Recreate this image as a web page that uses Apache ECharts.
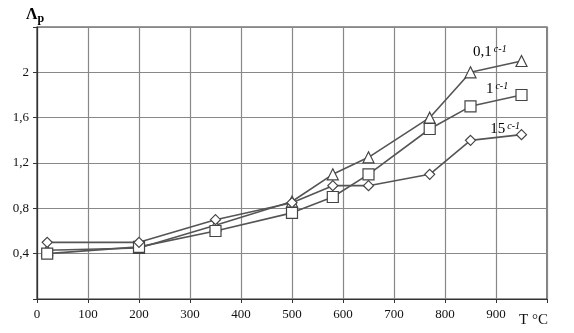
<!DOCTYPE html>
<html><head><meta charset="utf-8">
<script src="https://cdn.jsdelivr.net/npm/echarts@6/dist/echarts.min.js"></script>
<style>html,body{margin:0;padding:0;background:#fff}#c{width:574px;height:333px}</style>
</head><body><div id="c"></div>
<script>
const temps = [20, 200, 350, 500, 580, 650, 770, 850, 950];
const rate01 = [0.43, 0.45, 0.65, 0.86, 1.1, 1.25, 1.6, 2.0, 2.1];
const rate1 = [0.4, 0.46, 0.6, 0.76, 0.9, 1.1, 1.5, 1.7, 1.8];
const rate15 = [0.5, 0.5, 0.7, 0.85, 1.0, 1.0, 1.1, 1.4, 1.45];
const seriesNames = ['0,1', '1', '15'];
const labelPos = [[888, 2.18], [902, 1.85], [918, 1.50]];
const xTicks = [0, 100, 200, 300, 400, 500, 600, 700, 800, 900];
const yTicks = [0.4, 0.8, 1.2, 1.6, 2];

const chart = echarts.init(document.getElementById('c'), null, {renderer: 'canvas'});
const pts = arr => temps.map((t, i) => [t, arr[i]]);
const font = '"Liberation Serif", "DejaVu Serif", serif';
const lineColor = '#555';
function mk(name, data, symbol, size) {
  return {
    name, type: 'line', data: pts(data), symbol, symbolSize: size,
    showAllSymbol: true,
    lineStyle: {color: lineColor, width: 1.6},
    itemStyle: {color: '#fff', borderColor: '#444', borderWidth: 1.2},
    z: 3
  };
}
const richC = {
  n: {fontFamily: font, fontSize: 15, color: '#000', textBorderWidth: 0},
  s: {fontFamily: font, fontSize: 10, fontStyle: 'italic', color: '#000', textBorderWidth: 0, verticalAlign: 'top', padding: [0, 0, 6, 2]}
};
chart.setOption({
  animation: false,
  grid: {left: 37, right: 27, top: 27, bottom: 34, show: true, borderColor: '#333', borderWidth: 1.2},
  xAxis: {
    type: 'value', min: 0, max: 1000, interval: 100,
    axisLine: {show: true, lineStyle: {color: '#333', width: 1.2}},
    axisTick: {show: true, length: 4, lineStyle: {color: '#333'}},
    splitLine: {show: true, lineStyle: {color: '#888', width: 1.2}},
    axisLabel: {fontFamily: font, fontSize: 13, color: '#111', margin: 9,
      formatter: v => xTicks.includes(v) ? String(v) : ''}
  },
  yAxis: {
    type: 'value', min: 0, max: 2.4, interval: 0.4,
    axisLine: {show: true, lineStyle: {color: '#333', width: 1.2}},
    axisTick: {show: true, length: 4, lineStyle: {color: '#333'}},
    splitLine: {show: true, lineStyle: {color: '#888', width: 1.2}},
    axisLabel: {fontFamily: font, fontSize: 13, color: '#111', margin: 8,
      formatter: v => { const r = Math.round(v * 10) / 10; return yTicks.includes(r) ? String(r).replace('.', ',') : ''; }}
  },
  graphic: [
    {type: 'text', left: 26, top: 7, style: {text: '{a|Λ}{b|p}', rich: {
      a: {fontFamily: font, fontSize: 16, fontWeight: 'bold', color: '#111'},
      b: {fontFamily: font, fontSize: 12, fontWeight: 'bold', color: '#111', padding: [8, 0, 0, 0]}}}},
    {type: 'text', left: 519, top: 313, style: {text: 'T °C', fontFamily: font, fontSize: 15, fill: '#111'}}
  ],
  series: [
    mk(seriesNames[0], rate01, 'triangle', 11),
    mk(seriesNames[1], rate1, 'rect', 11),
    mk(seriesNames[2], rate15, 'diamond', 10),
    {type: 'scatter', silent: true, symbolSize: 0, z: 5,
      itemStyle: {opacity: 1, color: '#000'},
      data: seriesNames.map((n, i) => ({value: labelPos[i], name: n})),
      label: {show: true, position: 'inside', color: '#000', textBorderWidth: 0, opacity: 1,
        formatter: p => '{n|' + p.name + '}{s|c-1}', rich: richC}}
  ]
});
</script></body></html>
